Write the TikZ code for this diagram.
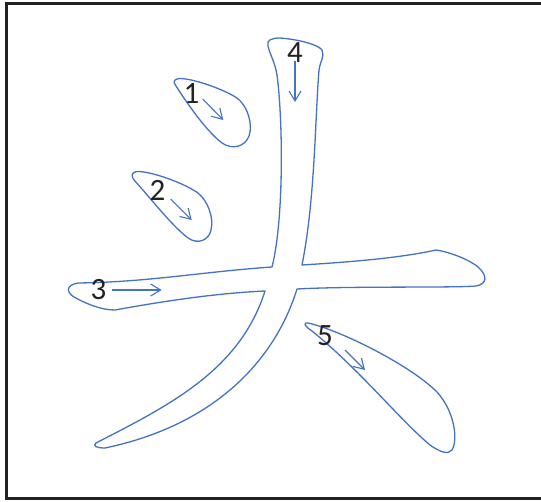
\documentclass[tikz,border=0pt]{standalone}
\usepackage{fontspec}
\setmainfont{Carlito}
\usetikzlibrary{arrows.meta}
\definecolor{strokeblue}{RGB}{68,114,196}
\definecolor{framegray}{RGB}{34,34,34}
\tikzset{
  outline/.style={draw=strokeblue, line width=1.3pt, line join=round},
  orderarrow/.style={draw=strokeblue, line width=1.1pt, -{Straight Barb[length=10pt,width=12pt]}},
  numlabel/.style={inner sep=0pt, text=framegray, font=\fontsize{31}{31}\selectfont}
}
\begin{document}
\begin{tikzpicture}[x=1pt,y=-1pt]
\useasboundingbox (0,0) rectangle (541,501);
\clip (0,0) rectangle (541,501);
\fill[white] (0,0) rectangle (541,501);
\draw[framegray, line width=3pt] (6.5,3.5) rectangle (560,498.5);

% stroke 1
\path[outline] (177,79) .. controls (185,76) and (222,88) .. (237,98)
  .. controls (248,106) and (253,125) .. (249,136)
  .. controls (245,147) and (232,150) .. (222,143)
  .. controls (205,130) and (185,100) .. (176,86)
  .. controls (173,82) and (174,80) .. (177,79) -- cycle;
% stroke 2
\path[outline] (135,172) .. controls (143,169) and (181,181) .. (198,193)
  .. controls (208,201) and (214,218) .. (211,230)
  .. controls (209,240) and (198,245) .. (188,238)
  .. controls (170,224) and (148,195) .. (134,180)
  .. controls (131,176) and (132,173) .. (135,172) -- cycle;
% strokes 3 and 4 (one outline)
\path[outline] (272,267)
  .. controls (284,220) and (283,120) .. (277,75)
  .. controls (275,62) and (270,55) .. (268,46)
  .. controls (266,40) and (272,38) .. (280,38)
  .. controls (295,39) and (318,44) .. (322,50)
  .. controls (325,56) and (320,62) .. (319,70)
  .. controls (315,120) and (315,200) .. (302,265)
  .. controls (350,262) and (400,258) .. (436,250)
  .. controls (450,252) and (470,260) .. (478,267)
  .. controls (488,276) and (487,284) .. (476,286)
  .. controls (450,288) and (350,286) .. (297,289)
  .. controls (275,360) and (215,425) .. (105,448)
  .. controls (97,448) and (92,446) .. (96,443)
  .. controls (170,405) and (240,370) .. (265,291)
  .. controls (220,293) and (170,300) .. (115,310)
  .. controls (100,310) and (85,303) .. (74,297)
  .. controls (66,292) and (66,285) .. (78,283)
  .. controls (150,282) and (200,272) .. (272,267) -- cycle;
% stroke 5
\path[outline] (308,323) .. controls (340,330) and (410,365) .. (437,392)
  .. controls (455,412) and (458,440) .. (452,450)
  .. controls (448,455) and (440,452) .. (430,445)
  .. controls (400,420) and (360,370) .. (312,331)
  .. controls (304,326) and (303,322) .. (308,323) -- cycle;

% labels
\node[numlabel] (n1) at (191.5,94) {1};
\node[numlabel] (n2) at (157.5,190) {2};
\node[numlabel] (n3) at (98.5,290) {3};
\node[numlabel] (n4) at (295,53) {4};
\node[numlabel] (n5) at (325,336) {5};

% arrows
\coordinate (a1s) at (202.7,99);  \coordinate (a1e) at (223.3,120);
\coordinate (a2s) at (170.7,199); \coordinate (a2e) at (191.7,220);
\coordinate (a3s) at (111.7,290); \coordinate (a3e) at (161.7,290);
\coordinate (a4s) at (295,61);    \coordinate (a4e) at (295,102);
\coordinate (a5s) at (345,350);   \coordinate (a5e) at (365,370);
\draw[orderarrow] (a1s) -- (a1e);
\draw[orderarrow] (a2s) -- (a2e);
\draw[orderarrow] (a3s) -- (a3e);
\draw[orderarrow] (a4s) -- (a4e);
\draw[orderarrow] (a5s) -- (a5e);
\end{tikzpicture}
\end{document}
